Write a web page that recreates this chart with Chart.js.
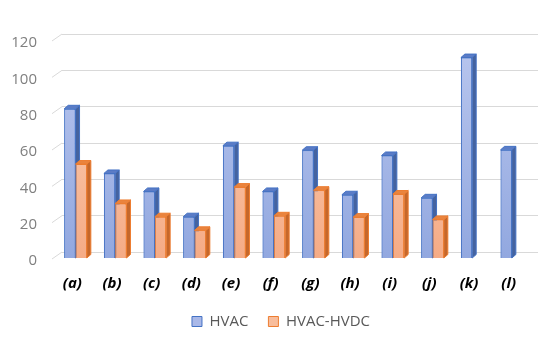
<!DOCTYPE html>
<html>
<head>
<meta charset="utf-8">
<script src="https://cdn.jsdelivr.net/npm/chart.js@4/dist/chart.umd.min.js"></script>
<style>
  html, body { margin: 0; padding: 0; background: #fff; }
  #wrap { width: 550px; height: 337px; }
</style>
</head>
<body>
<div id="wrap"><canvas id="c"></canvas></div>
<script>
// data
const categories = ['(a)', '(b)', '(c)', '(d)', '(e)', '(f)', '(g)', '(h)', '(i)', '(j)', '(k)', '(l)'];
const hvac = [82.4, 46.8, 36.9, 23, 62.1, 36.9, 59.6, 35.1, 56.7, 33.4, 110.6, 59.8];
const hvacHvdc = [52, 30.3, 23, 15.5, 39.3, 23.5, 37.6, 22.8, 35.5, 21.5, null, null];
const yTicks = [0, 20, 40, 60, 80, 100, 120];

const FONT = "'Open Sans', 'Liberation Sans', sans-serif";
const GRID = '#d9d9d9';

// oblique offsets of the fake 3D
const BAR_SHIFT = { x: -6.3, y: 6.5 };
const DEPTH = { x: 4, y: 3.5 };
const FLOOR = { x: 10, y: 7 };

const styles = [
  { top: '#b9c6ee', bottom: '#91a7df', border: '#4472c4', side: '#45639f', cap: '#5b7cc6', legend: '#a9b8e8' },
  { top: '#fbd2ba', bottom: '#f5aa84', border: '#ed7d31', side: '#c5672b', cap: '#e9843f', legend: '#f8bd9c' }
];

function frontFill(i) {
  return (ctx) => {
    const area = ctx.chart.chartArea;
    if (!area) return styles[i].bottom;
    const g = ctx.chart.ctx.createLinearGradient(0, area.top, 0, area.bottom + BAR_SHIFT.y);
    g.addColorStop(0, styles[i].top);
    g.addColorStop(1, styles[i].bottom);
    return g;
  };
}

// shift bars forward, then draw side + top faces dataset by dataset
const fake3d = {
  id: 'fake3d',
  beforeDatasetsDraw(chart) {
    const ctx = chart.ctx;
    const y = chart.scales.y;
    const left = chart.chartArea.left;
    // slanted floor edge of every gridline
    ctx.save();
    ctx.strokeStyle = GRID;
    ctx.lineWidth = 1;
    yTicks.forEach(v => {
      const py = y.getPixelForValue(v);
      ctx.beginPath();
      ctx.moveTo(left - FLOOR.x, py + FLOOR.y);
      ctx.lineTo(left, py);
      ctx.stroke();
    });
    ctx.restore();
    ctx.save();
    ctx.translate(BAR_SHIFT.x, BAR_SHIFT.y);
  },
  afterDatasetsDraw(chart) {
    const ctx = chart.ctx;
    chart.data.datasets.forEach((ds, i) => {
      const s = styles[i];
      const meta = chart.getDatasetMeta(i);
      meta.data.forEach((bar, j) => {
        if (ds.data[j] == null) return;
        bar.draw(ctx, chart.chartArea);
        const p = bar.getProps(['x', 'y', 'base', 'width'], true);
        const l = p.x - p.width / 2, r = p.x + p.width / 2;
        ctx.save();
        ctx.lineWidth = 1;
        ctx.strokeStyle = s.border;
        ctx.fillStyle = s.side;
        ctx.beginPath();
        ctx.moveTo(r, p.y);
        ctx.lineTo(r + DEPTH.x, p.y - DEPTH.y);
        ctx.lineTo(r + DEPTH.x, p.base - DEPTH.y);
        ctx.lineTo(r, p.base);
        ctx.closePath();
        ctx.fill();
        ctx.stroke();
        ctx.fillStyle = s.cap;
        ctx.beginPath();
        ctx.moveTo(l, p.y);
        ctx.lineTo(l + DEPTH.x, p.y - DEPTH.y);
        ctx.lineTo(r + DEPTH.x, p.y - DEPTH.y);
        ctx.lineTo(r, p.y);
        ctx.closePath();
        ctx.fill();
        ctx.stroke();
        ctx.restore();
      });
    });
    ctx.restore();
  }
};

new Chart(document.getElementById('c'), {
  type: 'bar',
  data: {
    labels: categories,
    datasets: [
      {
        label: 'HVAC',
        data: hvac,
        backgroundColor: frontFill(0),
        borderColor: styles[0].border,
        borderWidth: 1,
        clip: false
      },
      {
        label: 'HVAC-HVDC',
        data: hvacHvdc,
        backgroundColor: frontFill(1),
        borderColor: styles[1].border,
        borderWidth: 1,
        clip: false
      }
    ]
  },
  plugins: [fake3d],
  options: {
    responsive: true,
    maintainAspectRatio: false,
    animation: false,
    layout: { padding: { top: 2, right: 0, bottom: 0, left: 12 } },
    datasets: { bar: { categoryPercentage: 0.57, barPercentage: 1 } },
    plugins: {
      tooltip: { enabled: false },
      legend: {
        position: 'bottom',
        maxHeight: 43,
        labels: {
          font: { family: FONT, size: 15 },
          color: '#595959',
          boxWidth: 10,
          boxHeight: 10,
          padding: 20,
          generateLabels: (chart) => chart.data.datasets.map((ds, i) => ({
            text: ds.label,
            fillStyle: styles[i].legend,
            strokeStyle: styles[i].border,
            lineWidth: 1,
            fontColor: '#595959',
            datasetIndex: i,
            hidden: false
          }))
        }
      }
    },
    scales: {
      x: {
        grid: { display: false, drawTicks: false },
        border: { display: false },
        ticks: {
          font: { family: FONT, size: 15, weight: 'bold', style: 'italic' },
          color: '#000',
          padding: 23,
          labelOffset: -9.5,
          autoSkip: false,
          maxRotation: 0
        },
        afterFit: (scale) => { scale.height = 42; }
      },
      y: {
        min: 0,
        max: 120,
        grid: { color: GRID, lineWidth: 1, drawTicks: false },
        border: { display: false },
        afterBuildTicks: (scale) => { scale.ticks = yTicks.map(v => ({ value: v })); },
        ticks: {
          font: { family: FONT, size: 15 },
          color: '#7f7f7f',
          padding: 25,
          labelOffset: 9
        },
        afterFit: (scale) => { scale.width = 50; }
      },
      // empty strip on the right so the plot ends where the reference does
      yRight: {
        type: 'linear',
        position: 'right',
        display: true,
        grid: { display: false, drawTicks: false },
        border: { display: false },
        ticks: { display: false },
        afterFit: (scale) => { scale.width = 12; }
      }
    }
  }
});
</script>
</body>
</html>
